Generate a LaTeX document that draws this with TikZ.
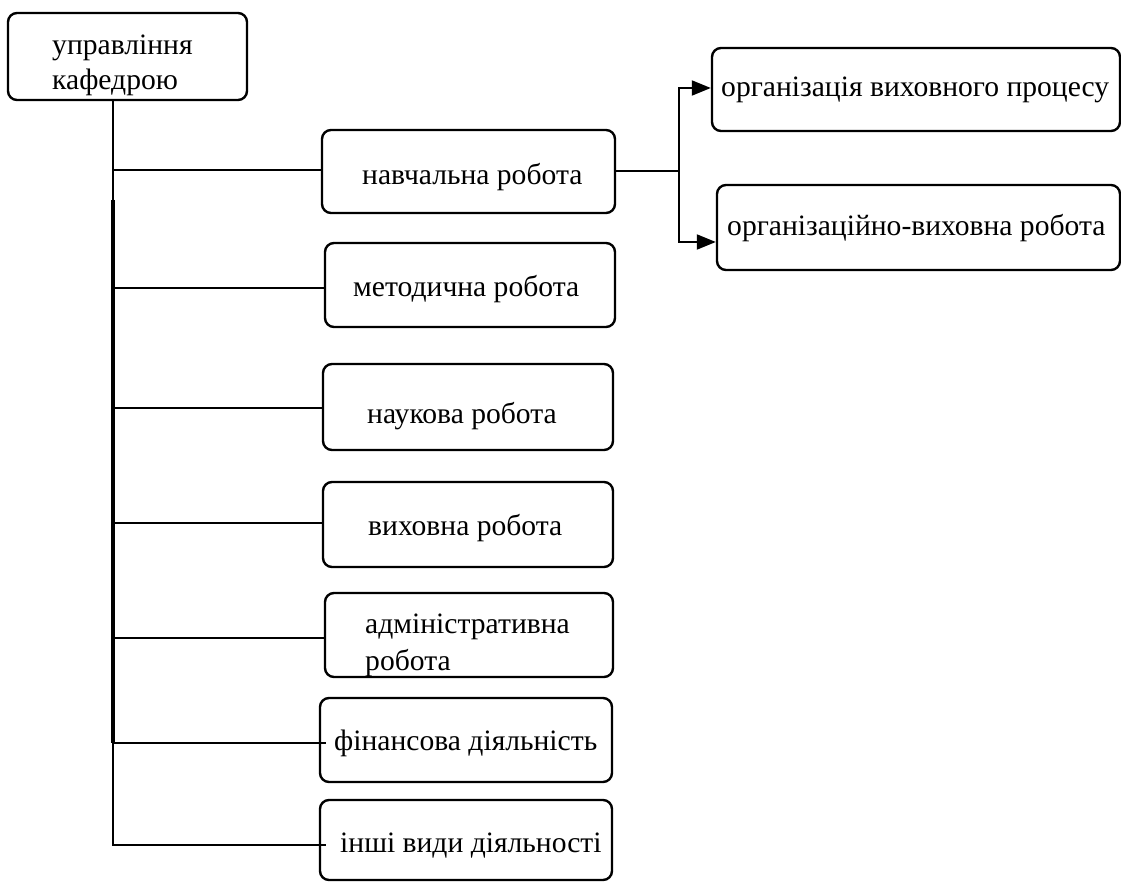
\documentclass[tikz,border=0pt]{standalone}
\usepackage{fontspec}
\setmainfont{Liberation Serif}
\usetikzlibrary{arrows.meta}
\begin{document}
\begin{tikzpicture}[x=1pt,y=-1pt,
  box/.style={draw, line width=2.4pt, rounded corners=9pt, inner sep=0pt},
  lbl/.style={anchor=base west, inner sep=0pt, font=\fontsize{29.6}{35}\selectfont},
  wire/.style={line width=2pt},
  trunk/.style={line width=4pt},
  arr/.style={wire, -{Triangle[length=19pt,width=15pt]}}]
\useasboundingbox (0,0) rectangle (1121,882);
\fill[white] (0,0) rectangle (1121,882);

% boxes
\node[box, minimum width=239pt, minimum height=87pt] (top)   at (127.5,56.5) {};
\node[box, minimum width=293pt, minimum height=83pt] (nav)   at (468.5,171.5) {};
\node[box, minimum width=290pt, minimum height=84pt] (met)   at (470,285) {};
\node[box, minimum width=290pt, minimum height=86pt] (nauk)  at (468,407) {};
\node[box, minimum width=290pt, minimum height=85pt] (vyh)   at (468,524.5) {};
\node[box, minimum width=288pt, minimum height=84pt] (adm)   at (469,635) {};
\node[box, minimum width=292pt, minimum height=84pt] (fin)   at (466,740) {};
\node[box, minimum width=292pt, minimum height=80pt] (inshi) at (466,840) {};
\node[box, minimum width=408pt, minimum height=83pt] (org1)  at (916,89.5) {};
\node[box, minimum width=403pt, minimum height=85pt] (org2)  at (918.5,227.5) {};

% labels
\node[lbl] (t-top1) at (52,55) {управління};
\node[lbl] (t-top2) at (52,90) {кафедрою};
\node[lbl] (t-nav)  at (362,185) {навчальна робота};
\node[lbl] (t-met)  at (353,297) {методична робота};
\node[lbl] (t-nauk) at (367,423) {наукова робота};
\node[lbl] (t-vyh)  at (368,535) {виховна робота};
\node[lbl] (t-adm1) at (365,633) {адміністративна};
\node[lbl] (t-adm2) at (365,670) {робота};
\node[lbl] (t-fin)  at (334,750) {фінансова діяльність};
\node[lbl] (t-ins)  at (340,852) {інші види діяльності};
\node[lbl] (t-org1) at (721,97) {організація виховного процесу};
\node[lbl] (t-org2) at (727,236) {організаційно-виховна робота};

% branch points on the trunk
\coordinate (b1) at (113,170);
\coordinate (b2) at (113,288);
\coordinate (b3) at (113,408);
\coordinate (b4) at (113,523);
\coordinate (b5) at (113,638);
\coordinate (b6) at (113,743);
\coordinate (b7) at (113,845);
\coordinate (k)  at (113,200);

% trunk and branches
\draw[wire] (top.south -| b1) -- (b7) -- ([xshift=7pt]b7 -| inshi.west);
\draw[trunk] (k) -- (b6);
\foreach \b/\n in {b1/nav, b2/met, b3/nauk, b4/vyh, b5/adm}
  \draw[wire] (\b) -- (\b -| \n.west);
\draw[wire] (b6) -- ([xshift=7pt]b6 -| fin.west);

% fork to the two sub-boxes
\coordinate (r)  at (679,171.5);
\coordinate (a1) at (679,88);
\coordinate (a2) at (679,242);
\draw[wire] (nav.east) -- (r);
\draw[arr] (r) -- (a1) -- (a1 -| org1.west);
\draw[arr] (r) -- (a2) -- (a2 -| org2.west);
\end{tikzpicture}
\end{document}
